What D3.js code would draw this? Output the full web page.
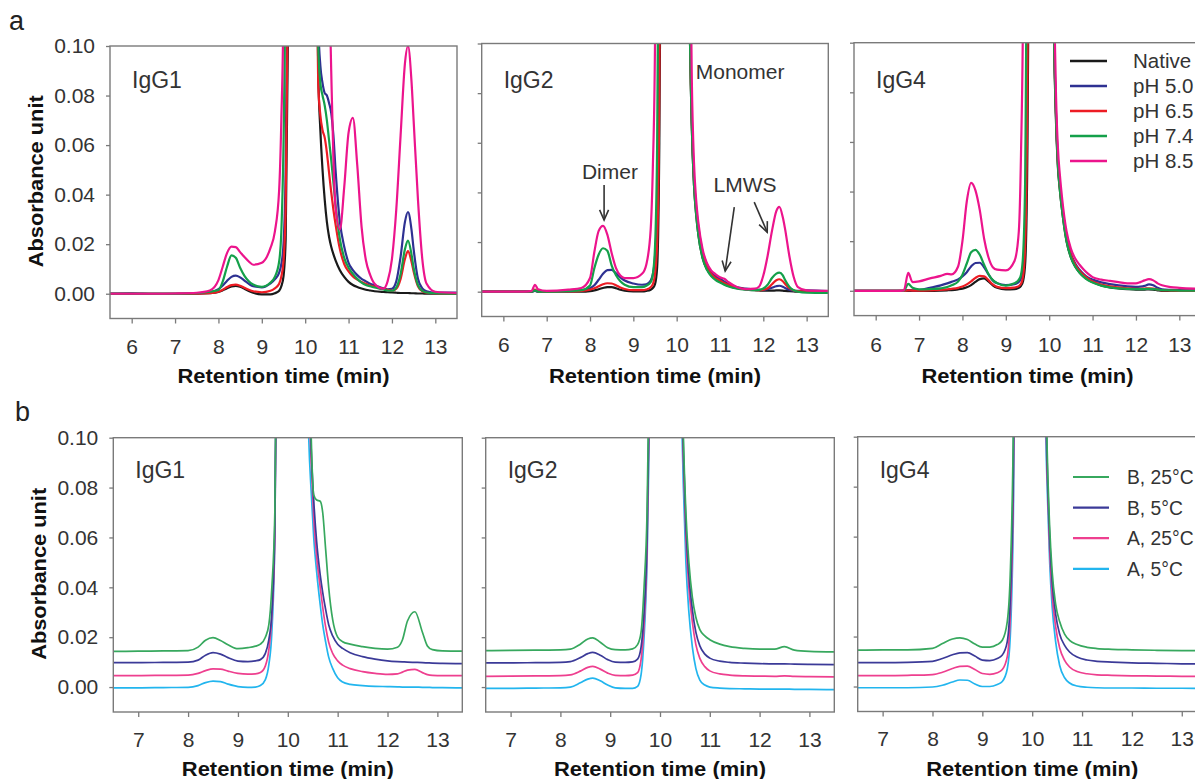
<!DOCTYPE html>
<html><head><meta charset="utf-8">
<script src="https://cdn.jsdelivr.net/npm/d3@7"></script>
<style>body{margin:0;background:#fff;} svg{display:block;} text{font-family:"Liberation Sans",Arial,sans-serif;}</style>
</head><body><svg id="c" width="1195" height="779"></svg>
<script>
// ---------------- DATA ----------------
const topSeriesNames = ["Native", "pH 5.0", "pH 6.5", "pH 7.4", "pH 8.5"];
const bottomSeriesNames = ["B, 25°C", "B, 5°C", "A, 25°C", "A, 5°C"];
const panelTitles = ["IgG1", "IgG2", "IgG4"];
const topXTicks = [6, 7, 8, 9, 10, 11, 12, 13];
const bottomXTicks = [7, 8, 9, 10, 11, 12, 13];
const yTicks = [0, 0.02, 0.04, 0.06, 0.08, 0.10];
const yTickLabels = ["0.00", "0.02", "0.04", "0.06", "0.08", "0.10"];
const xTitle = "Retention time (min)";
const yTitle = "Absorbance unit";

// Panel a1: IgG1
const a1Time = [5.5,6.0,6.5,7.0,7.5,7.8,8.0,8.1,8.2,8.3, 8.4,8.5,8.6,8.7,8.8,9.0,9.2,9.3,9.4,9.45, 9.5,9.55,9.6,9.65,10.0,10.25,10.3,10.35,10.4,10.45, 10.5,10.55,10.6,10.65,10.7,10.8,10.9,11.0,11.1,11.2, 11.3,11.4,11.5,11.6,11.8,11.9,12.0,12.1,12.2,12.3, 12.37,12.45,12.5,12.6,12.7,12.8,13.0,13.5];
const a1Native = [0,0,0,0,0,0.0002,0.0007,0.0014,0.0022,0.0029, 0.0032,0.0028,0.002,0.0011,0.0004,-0.0003,-0.0003,0.0002,0.0012,0.003, 0.007,0.022,0.1,0.3,0.9,0.2,0.09,0.066,0.05,0.038, 0.029,0.023,0.019,0.016,0.0135,0.0095,0.0068,0.0048,0.0035,0.0027, 0.0021,0.0016,0.0013,0.001,0.0007,0.0006,0.0005,0.0004,0.0003,0.0003, 0.0003,0.0002,0.0002,0.0001,0.0001,0,0,0];
const a1pH50 = [0,0.0002,0,0,0.0002,0.0006,0.0018,0.0033,0.0052,0.0068, 0.0073,0.0066,0.0053,0.004,0.003,0.0026,0.0042,0.0058,0.0085,0.012, 0.02,0.05,0.15,0.35,0.9,0.2,0.11,0.092,0.085,0.081, 0.08,0.077,0.073,0.064,0.05,0.029,0.019,0.0125,0.0095,0.0075, 0.006,0.005,0.004,0.0034,0.0022,0.0018,0.002,0.005,0.015,0.029, 0.033,0.026,0.018,0.006,0.0022,0.001,0.0005,0.0005];
const a1pH65 = [0,0,0,0,0,0.0002,0.0008,0.0016,0.0027,0.0035, 0.0037,0.0032,0.0024,0.0016,0.001,0.0006,0.0012,0.0022,0.004,0.007, 0.013,0.035,0.12,0.3,0.9,0.15,0.085,0.072,0.066,0.063, 0.057,0.049,0.041,0.034,0.028,0.018,0.012,0.009,0.007,0.0057, 0.0047,0.004,0.0033,0.0028,0.002,0.0016,0.0012,0.002,0.006,0.014, 0.0172,0.013,0.009,0.003,0.001,0.0004,0.0002,0];
const a1pH74 = [0,0,0,0,0.0002,0.0008,0.0015,0.005,0.011,0.0155, 0.0145,0.0105,0.0072,0.005,0.0037,0.0028,0.0045,0.0068,0.013,0.025, 0.06,0.13,0.3,0.5,0.9,0.2,0.1,0.085,0.08,0.076, 0.07,0.062,0.054,0.045,0.036,0.022,0.0145,0.0105,0.008,0.006, 0.0045,0.0035,0.003,0.0025,0.0017,0.0013,0.0012,0.0025,0.008,0.018, 0.0214,0.016,0.0105,0.0035,0.0012,0.0005,0.0002,0];
const a1pH85 = [0,0,0,0.0001,0.0004,0.0013,0.0055,0.011,0.0165,0.019, 0.0188,0.0168,0.0148,0.013,0.0117,0.0125,0.0185,0.025,0.042,0.07, 0.12,0.3,0.5,0.7,0.9,0.8,0.6,0.45,0.35,0.25, 0.18,0.13,0.09,0.055,0.035,0.026,0.043,0.065,0.071,0.052, 0.027,0.0135,0.0075,0.004,0.002,0.005,0.014,0.034,0.064,0.093, 0.1,0.086,0.07,0.038,0.014,0.004,0.0008,0.0003];

// Panel a2: IgG2
const a2Time = [5.5,6.0,6.5,6.65,6.73,6.8,7.0,7.5,7.8,8.0, 8.1,8.2,8.3,8.4,8.5,8.6,8.7,8.8,9.0,9.2, 9.3,9.4,9.45,9.5,9.55,9.6,9.65,10.0,10.25,10.3, 10.35,10.4,10.45,10.5,10.6,10.7,10.8,10.9,11.0,11.1, 11.2,11.4,11.6,11.8,11.9,12.0,12.1,12.2,12.3,12.37, 12.45,12.5,12.6,12.7,12.8,13.0,13.5];
const a2Native = [0,0,0,0,0.0003,0,0,0,0,0.0002, 0.0005,0.001,0.0015,0.0018,0.0018,0.0014,0.0008,0.0004,0.0001,0.0001, 0.0003,0.0008,0.0015,0.003,0.01,0.06,0.2,0.9,0.2,0.11, 0.066,0.043,0.031,0.023,0.0135,0.009,0.0065,0.005,0.004,0.003, 0.0023,0.0014,0.0009,0.0006,0.0005,0.0004,0.0004,0.0004,0.0005,0.0005, 0.0004,0.0003,0.0002,0.0001,0,0,0];
const a2pH50 = [0,0,0,0,0.0004,0,0,0.0002,0.0006,0.0014, 0.0026,0.0048,0.0072,0.0087,0.0088,0.0074,0.0058,0.0045,0.0033,0.0028, 0.003,0.0045,0.007,0.014,0.035,0.12,0.3,0.9,0.2,0.115, 0.07,0.046,0.034,0.026,0.016,0.011,0.0078,0.0062,0.0052,0.004, 0.003,0.0018,0.0012,0.0008,0.0007,0.0007,0.001,0.0016,0.0022,0.0024, 0.002,0.0015,0.0008,0.0004,0.0003,0.0005,0.0002];
const a2pH65 = [0,0,0,0,0.0008,0.0001,0,0.0001,0.0003,0.0008, 0.0014,0.0022,0.003,0.0034,0.0033,0.0026,0.0017,0.0011,0.0006,0.0006, 0.0009,0.0018,0.003,0.007,0.02,0.08,0.25,0.9,0.2,0.112, 0.068,0.045,0.033,0.025,0.0148,0.0098,0.007,0.0055,0.0045,0.0035, 0.0027,0.0016,0.001,0.0007,0.0006,0.0008,0.0014,0.003,0.0046,0.005, 0.0042,0.0032,0.0014,0.0005,0.0002,0,0];
const a2pH74 = [0,0,0,0,0.0005,0,0,0.0002,0.0006,0.0025, 0.0095,0.015,0.0175,0.0165,0.0105,0.0066,0.0042,0.0028,0.0018,0.0018, 0.0024,0.0038,0.007,0.018,0.06,0.2,0.4,0.9,0.2,0.11, 0.066,0.043,0.031,0.023,0.0135,0.0088,0.0062,0.0047,0.0037,0.0028, 0.0021,0.0012,0.0008,0.0006,0.0007,0.0013,0.0028,0.0055,0.0073,0.0077, 0.0066,0.0048,0.002,0.0006,0,-0.0004,-0.0005];
const a2pH85 = [0,0,0,0.0003,0.0028,0.001,0.0003,0.0008,0.0015,0.0055, 0.016,0.0245,0.0265,0.023,0.0155,0.0095,0.0065,0.0055,0.0055,0.0072, 0.011,0.025,0.05,0.1,0.25,0.5,0.7,0.9,0.3,0.16, 0.085,0.052,0.037,0.028,0.017,0.0115,0.0085,0.007,0.0058,0.0052, 0.0038,0.0018,0.001,0.0012,0.002,0.0065,0.0145,0.0245,0.0325,0.0342, 0.03,0.0255,0.0145,0.006,0.0018,0.0005,0.0003];

// Panel a3: IgG4
const a3Time = [5.5,6.0,6.5,6.65,6.75,6.85,7.0,7.25,7.5,7.65, 7.75,7.9,8.0,8.1,8.2,8.3,8.4,8.5,8.6,8.7, 8.8,9.0,9.2,9.3,9.35,9.4,9.45,9.5,9.55,9.8, 10.05,10.1,10.15,10.2,10.25,10.3,10.4,10.5,10.6,10.7, 10.8,10.9,11.0,11.2,11.4,11.6,11.8,12.0,12.1,12.2, 12.3,12.4,12.5,12.6,12.8,13.0,13.5];
const a3Native = [0,0,0,0,0,0,0,0,0.0001,0.0002, 0.0003,0.0006,0.0009,0.0014,0.0023,0.0036,0.0047,0.005,0.0038,0.0022, 0.0012,0.0006,0.0007,0.0012,0.002,0.004,0.012,0.06,0.2,0.9, 0.3,0.12,0.072,0.05,0.04,0.032,0.02,0.0135,0.0098,0.0074, 0.0057,0.0044,0.0035,0.0022,0.0014,0.001,0.0007,0.0005,0.0005,0.0005, 0.0006,0.0005,0.0002,0,0,0,0];
const a3pH50 = [0,0,0,0,0.0003,0.0002,0.0003,0.0012,0.0022,0.003, 0.0036,0.0046,0.0058,0.0075,0.0098,0.0112,0.0113,0.0095,0.0066,0.0042, 0.003,0.0023,0.0027,0.0036,0.005,0.01,0.03,0.12,0.35,0.9, 0.3,0.125,0.076,0.053,0.042,0.034,0.022,0.015,0.011,0.0085, 0.0066,0.0053,0.0045,0.0034,0.0027,0.0022,0.0018,0.0016,0.0017,0.002, 0.0026,0.0022,0.0012,0.0006,0.0004,0.0003,0.0002];
const a3pH65 = [0,0,0,0,0.0002,0.0001,0.0001,0.0002,0.0004,0.0006, 0.0008,0.0012,0.0017,0.0026,0.0038,0.0052,0.006,0.0058,0.0043,0.0026, 0.0016,0.0011,0.0013,0.0019,0.0028,0.006,0.02,0.09,0.3,0.9, 0.3,0.123,0.075,0.052,0.041,0.033,0.021,0.0145,0.0105,0.008, 0.0062,0.0048,0.0038,0.0025,0.0018,0.0014,0.001,0.0008,0.0008,0.0009, 0.001,0.0009,0.0005,0.0002,0.0001,0,0];
const a3pH74 = [0,0,0,0.0001,0.0028,0.0012,0.0006,0.0007,0.001,0.0015, 0.0022,0.0037,0.0065,0.011,0.0155,0.0165,0.0145,0.0105,0.0068,0.0043, 0.0031,0.0021,0.003,0.0045,0.0065,0.015,0.05,0.18,0.4,0.9, 0.3,0.12,0.074,0.051,0.04,0.032,0.02,0.0135,0.0097,0.0073, 0.0055,0.0042,0.0033,0.0021,0.0014,0.001,0.0008,0.0007,0.0007,0.0007, 0.0008,0.0007,0.0005,0.0003,0.0002,0.0001,0];
const a3pH85 = [0,0,0,0.0002,0.0072,0.0035,0.0038,0.005,0.006,0.0068, 0.0066,0.0098,0.02,0.036,0.0435,0.0405,0.0325,0.021,0.0135,0.0095, 0.0085,0.0082,0.012,0.024,0.055,0.12,0.3,0.5,0.7,0.9, 0.35,0.15,0.085,0.058,0.046,0.037,0.024,0.017,0.013,0.0105, 0.0085,0.0068,0.0055,0.0045,0.004,0.0035,0.003,0.003,0.0035,0.0042, 0.0047,0.0042,0.003,0.0022,0.0015,0.0012,0.0008];

// Panel b1: IgG1
const b1Time = [6.5,7.0,7.5,8.0,8.2,8.35,8.5,8.65,8.8,9.0, 9.2,9.35,9.45,9.55,9.62,9.68,9.74,9.8,10.1,10.42, 10.47,10.52,10.58,10.65,10.7,10.76,10.82,10.9,11.0,11.1, 11.25,11.5,11.75,12.0,12.2,12.3,12.4,12.55,12.7,12.8, 12.9,13.1,13.5];
const b1B25 = [0.0143,0.0144,0.0145,0.0146,0.016,0.0188,0.0198,0.0187,0.017,0.0154, 0.0158,0.0164,0.0172,0.02,0.025,0.04,0.07,0.2,0.9,0.15, 0.1,0.077,0.075,0.0745,0.07,0.055,0.04,0.027,0.02,0.0182, 0.0172,0.0162,0.0155,0.0152,0.016,0.019,0.0265,0.0302,0.022,0.0165, 0.015,0.0145,0.0144];
const b1B5 = [0.0098,0.0098,0.0099,0.01,0.0108,0.0128,0.0138,0.0132,0.0118,0.0104, 0.0102,0.0105,0.011,0.0135,0.019,0.03,0.065,0.2,0.9,0.13, 0.095,0.075,0.058,0.045,0.038,0.031,0.025,0.0205,0.0172,0.0155, 0.0138,0.0122,0.0112,0.0105,0.0102,0.0101,0.01,0.0099,0.0098,0.0097, 0.0096,0.0095,0.0094];
const b1A25 = [0.0046,0.0046,0.0047,0.0048,0.0055,0.0066,0.0073,0.0072,0.0064,0.0055, 0.0052,0.0053,0.0058,0.0085,0.015,0.028,0.06,0.2,0.9,0.12, 0.09,0.068,0.052,0.04,0.032,0.024,0.018,0.0135,0.0105,0.0088, 0.0074,0.0062,0.0055,0.0051,0.0053,0.006,0.0068,0.0071,0.0058,0.005, 0.0047,0.0046,0.0046];
const b1A5 = [-0.0003,-0.0003,-0.0002,-0.0001,0.0006,0.0018,0.0024,0.0022,0.0012,0.0002, -0.0001,0,0.0006,0.003,0.009,0.022,0.06,0.2,0.9,0.1, 0.078,0.06,0.046,0.033,0.025,0.018,0.012,0.0075,0.0037,0.002, 0.0011,0.0006,0.0003,0.0002,0.0001,0,0,0,-0.0001,-0.0001, -0.0002,-0.0002,-0.0003];

// Panel b2: IgG2
const b2Time = [6.5,7.0,7.5,8.0,8.2,8.4,8.55,8.65,8.8,8.95, 9.1,9.3,9.45,9.55,9.62,9.68,9.74,9.8,10.1,10.42, 10.47,10.52,10.58,10.65,10.72,10.8,10.9,11.0,11.2,11.4, 11.7,12.0,12.3,12.5,12.7,13.0,13.5];
const b2B25 = [0.0146,0.0147,0.0148,0.0149,0.0152,0.0172,0.0193,0.0197,0.018,0.0158, 0.015,0.0149,0.0153,0.017,0.022,0.04,0.07,0.15,0.9,0.15, 0.1,0.07,0.05,0.036,0.028,0.023,0.0205,0.019,0.0172,0.0162, 0.0155,0.0152,0.0152,0.0162,0.0148,0.0143,0.0141];
const b2B5 = [0.0097,0.0097,0.0098,0.0099,0.0102,0.0118,0.0134,0.0139,0.0128,0.011, 0.01,0.0099,0.0101,0.0112,0.016,0.03,0.06,0.14,0.9,0.14, 0.095,0.065,0.045,0.031,0.022,0.0165,0.0132,0.0116,0.0104,0.0099, 0.0096,0.0094,0.0093,0.0093,0.0092,0.0091,0.009];
const b2A25 = [0.0043,0.0044,0.0045,0.0046,0.0049,0.0064,0.0079,0.0083,0.0072,0.0056, 0.0047,0.0046,0.0048,0.0058,0.011,0.025,0.055,0.13,0.9,0.13, 0.09,0.06,0.04,0.026,0.017,0.0115,0.0082,0.0065,0.0053,0.0048, 0.0045,0.0044,0.0043,0.0045,0.0043,0.0042,0.0041];
const b2A5 = [-0.0005,-0.0005,-0.0004,-0.0003,0,0.0017,0.0032,0.0036,0.0025,0.0008, -0.0003,-0.0005,-0.0005,0.0003,0.005,0.02,0.05,0.12,0.9,0.12, 0.08,0.05,0.03,0.016,0.0075,0.0028,0.0008,0,-0.0004,-0.0006, -0.0007,-0.0008,-0.0008,-0.0008,-0.0009,-0.0009,-0.001];

// Panel b3: IgG4
const b3Time = [6.5,7.0,7.5,8.0,8.2,8.4,8.55,8.7,8.85,9.0, 9.15,9.3,9.4,9.5,9.56,9.62,9.7,10.0,10.25,10.3, 10.35,10.4,10.47,10.55,10.65,10.75,10.9,11.1,11.3,11.6, 12.0,12.5,13.0,13.5];
const b3B25 = [0.0146,0.0147,0.0147,0.0153,0.0172,0.019,0.0195,0.0188,0.017,0.0158, 0.0158,0.0168,0.0185,0.026,0.045,0.1,0.3,0.9,0.15,0.095, 0.064,0.046,0.033,0.026,0.021,0.0185,0.0168,0.0157,0.0152,0.0149, 0.0147,0.0145,0.0144,0.0143];
const b3B5 = [0.0096,0.0096,0.0097,0.0101,0.0112,0.0127,0.0135,0.0136,0.0122,0.0106, 0.0104,0.0112,0.0126,0.018,0.035,0.085,0.28,0.9,0.14,0.09, 0.06,0.042,0.029,0.021,0.0165,0.0138,0.0118,0.0106,0.0101,0.0098, 0.0095,0.0093,0.0091,0.009];
const b3A25 = [0.0044,0.0044,0.0045,0.0048,0.0057,0.0072,0.0081,0.0082,0.0068,0.0052, 0.0049,0.0055,0.0068,0.012,0.028,0.075,0.25,0.9,0.13,0.085, 0.055,0.037,0.024,0.0155,0.0105,0.0078,0.006,0.0051,0.0047,0.0045, 0.0043,0.0042,0.0041,0.004];
const b3A5 = [-0.0005,-0.0005,-0.0005,-0.0002,0.0005,0.0018,0.0026,0.0025,0.001,0, 0,0.0008,0.002,0.007,0.02,0.065,0.23,0.9,0.12,0.08, 0.05,0.032,0.018,0.0085,0.0035,0.0014,0.0002,-0.0003,-0.0005,-0.0006, -0.0006,-0.0007,-0.0007,-0.0008];

// annotations (data units of panel a2)
const annotationTexts = ["Monomer", "Dimer", "LMWS"];

// ---------------- STYLES / LAYOUT ----------------
const topColors = ["#1a1a1a", "#2e3192", "#ed1c24", "#14a04a", "#ec148c"];
const bottomColors = ["#37a85e", "#3b3a98", "#ee3f8f", "#22b5ee"];
const frameColor = "#7a7a7a";
const textColor = "#333";

const svg = d3.select("#c");

const panels = [
  {x0:110,   x1:457,    y0:46,   y1:318.5, xdom:[5.5,13.5], row:0, col:0, time:a1Time, series:[a1Native,a1pH50,a1pH65,a1pH74,a1pH85]},
  {x0:481.7, x1:828.3,  y0:43.5, y1:316.5, xdom:[5.5,13.5], row:0, col:1, time:a2Time, series:[a2Native,a2pH50,a2pH65,a2pH74,a2pH85]},
  {x0:854,   x1:1201,   y0:42.7, y1:315.6, xdom:[5.5,13.5], row:0, col:2, time:a3Time, series:[a3Native,a3pH50,a3pH65,a3pH74,a3pH85]},
  {x0:113.3, x1:462.3,  y0:437.7,y1:712,   xdom:[6.5,13.5], row:1, col:0, time:b1Time, series:[b1B25,b1B5,b1A25,b1A5]},
  {x0:485.7, x1:834.3,  y0:437.7,y1:712,   xdom:[6.5,13.5], row:1, col:1, time:b2Time, series:[b2B25,b2B5,b2A25,b2A5]},
  {x0:857.7, x1:1206.7, y0:436.7,y1:711.5, xdom:[6.5,13.5], row:1, col:2, time:b3Time, series:[b3B25,b3B5,b3A25,b3A5]}
];

panels.forEach((p, i) => {
  const x = d3.scaleLinear().domain(p.xdom).range([p.x0, p.x1]);
  const y = d3.scaleLinear().domain([-0.01, 0.10]).range([p.y1, p.y0]);
  p.x = x; p.y = y;
  const g = svg.append("g");
  const clipId = "clip" + i;
  svg.append("clipPath").attr("id", clipId).append("rect")
    .attr("x", p.x0).attr("y", p.y0).attr("width", p.x1 - p.x0).attr("height", p.y1 - p.y0);

  const line = d3.line().x(d => x(d[0])).y(d => y(d[1])).curve(d3.curveMonotoneX);
  const colors = p.row === 0 ? topColors : bottomColors;
  const order = p.row === 0 ? [0,1,2,3,4] : [3,2,1,0];
  const lg = g.append("g").attr("clip-path", `url(#${clipId})`);
  order.forEach(k => {
    lg.append("path").datum(d3.zip(p.time, p.series[k]))
      .attr("d", line).attr("fill", "none")
      .attr("stroke", colors[k]).attr("stroke-width", p.row === 0 ? 2.2 : 1.7)
      .attr("stroke-linejoin", "round");
  });

  // frame
  g.append("rect").attr("x", p.x0).attr("y", p.y0).attr("width", p.x1 - p.x0).attr("height", p.y1 - p.y0)
    .attr("fill", "none").attr("stroke", frameColor).attr("stroke-width", 1.4);

  // x axis
  const xa = g.append("g").attr("transform", `translate(0,${p.y1})`)
    .call(d3.axisBottom(x).tickValues(p.row === 0 ? topXTicks : bottomXTicks)
      .tickSize(5).tickPadding(p.row === 0 ? 16 : 15).tickFormat(d3.format("d")));
  xa.select(".domain").remove();
  xa.selectAll("line").attr("stroke", frameColor).attr("stroke-width", 1.3);
  xa.attr("font-size", 21).attr("font-family", '"Liberation Sans",Arial,sans-serif');
  xa.selectAll("text").attr("fill", textColor);

  // y axis
  const ya = g.append("g").attr("transform", `translate(${p.x0},0)`)
    .call(d3.axisLeft(y).tickValues(yTicks).tickSize(4).tickPadding(11)
      .tickFormat((d, j) => p.col === 0 ? yTickLabels[j] : ""));
  ya.select(".domain").remove();
  ya.selectAll("line").attr("stroke", frameColor).attr("stroke-width", 1.3);
  ya.attr("font-size", 21).attr("font-family", '"Liberation Sans",Arial,sans-serif');
  ya.selectAll("text").attr("fill", textColor);

  // x title
  g.append("text").attr("x", (p.x0 + Math.min(p.x1, p.x0 + 349)) / 2)
    .attr("y", p.row === 0 ? 383 : 776)
    .attr("text-anchor", "middle").attr("font-weight", "bold").attr("font-size", 21)
    .attr("textLength", 212).attr("lengthAdjust", "spacingAndGlyphs")
    .attr("fill", "#111").text(xTitle);

  // y title
  if (p.col === 0) {
    const cy = (p.y0 + p.y1) / 2 - 1;
    g.append("text").attr("transform", `translate(${p.row === 0 ? 43 : 46},${cy}) rotate(-90)`)
      .attr("text-anchor", "middle").attr("font-weight", "bold").attr("font-size", 21)
      .attr("textLength", 172).attr("lengthAdjust", "spacingAndGlyphs")
      .attr("fill", "#111").text(yTitle);
  }

  // panel title
  g.append("text").attr("x", p.x0 + 22).attr("y", p.row === 0 ? 87.5 : 477.5)
    .attr("font-size", 23).attr("fill", textColor).text(panelTitles[p.col]);
});

// row labels
svg.append("text").attr("x", 9).attr("y", 30).attr("font-size", 27).attr("fill", "#222").text("a");
svg.append("text").attr("x", 15).attr("y", 421).attr("font-size", 27).attr("fill", "#222").text("b");

// legends
const legTop = svg.append("g");
topSeriesNames.forEach((n, i) => {
  const yy = 61 + i * 25;
  legTop.append("line").attr("x1", 1070).attr("x2", 1107).attr("y1", yy).attr("y2", yy)
    .attr("stroke", topColors[i]).attr("stroke-width", 2.6);
  legTop.append("text").attr("x", 1133).attr("y", yy).attr("dy", "0.36em")
    .attr("font-size", 20.5).attr("fill", textColor).text(n);
});
const legBot = svg.append("g");
bottomSeriesNames.forEach((n, i) => {
  const yy = 477 + i * 30.6;
  legBot.append("line").attr("x1", 1073).attr("x2", 1109).attr("y1", yy).attr("y2", yy)
    .attr("stroke", bottomColors[i]).attr("stroke-width", 2.2);
  legBot.append("text").attr("x", 1127).attr("y", yy).attr("dy", "0.36em")
    .attr("font-size", 19.3).attr("fill", textColor).text(n);
});

// annotations on IgG2 panel (data coordinates)
const pa = panels[1];
const ann = svg.append("g");
function txt(t, tx, ty, anchor) {
  ann.append("text").attr("x", pa.x(tx)).attr("y", pa.y(ty)).attr("text-anchor", anchor)
    .attr("font-size", 21).attr("fill", textColor).text(t);
}
function arrow(t1, v1, t2, v2) {
  const X1 = pa.x(t1), Y1 = pa.y(v1), X2 = pa.x(t2), Y2 = pa.y(v2);
  ann.append("line").attr("x1", X1).attr("y1", Y1).attr("x2", X2).attr("y2", Y2)
    .attr("stroke", "#333").attr("stroke-width", 1.6);
  const ang = Math.atan2(Y1 - Y2, X1 - X2), L = 11, w = 0.42;
  const pts = [[X2 + L * Math.cos(ang + w), Y2 + L * Math.sin(ang + w)], [X2, Y2], [X2 + L * Math.cos(ang - w), Y2 + L * Math.sin(ang - w)]];
  ann.append("path").attr("d", d3.line()(pts)).attr("fill", "none").attr("stroke", "#333").attr("stroke-width", 1.6);
}
txt(annotationTexts[0], 10.44, 0.0857, "start");
txt(annotationTexts[1], 8.46, 0.0454, "middle");
txt(annotationTexts[2], 11.58, 0.0403, "middle");
arrow(8.325, 0.043, 8.325, 0.0289);
arrow(11.33, 0.0341, 11.12, 0.0083);
arrow(11.79, 0.0361, 12.09, 0.024);
</script>
</body></html>
